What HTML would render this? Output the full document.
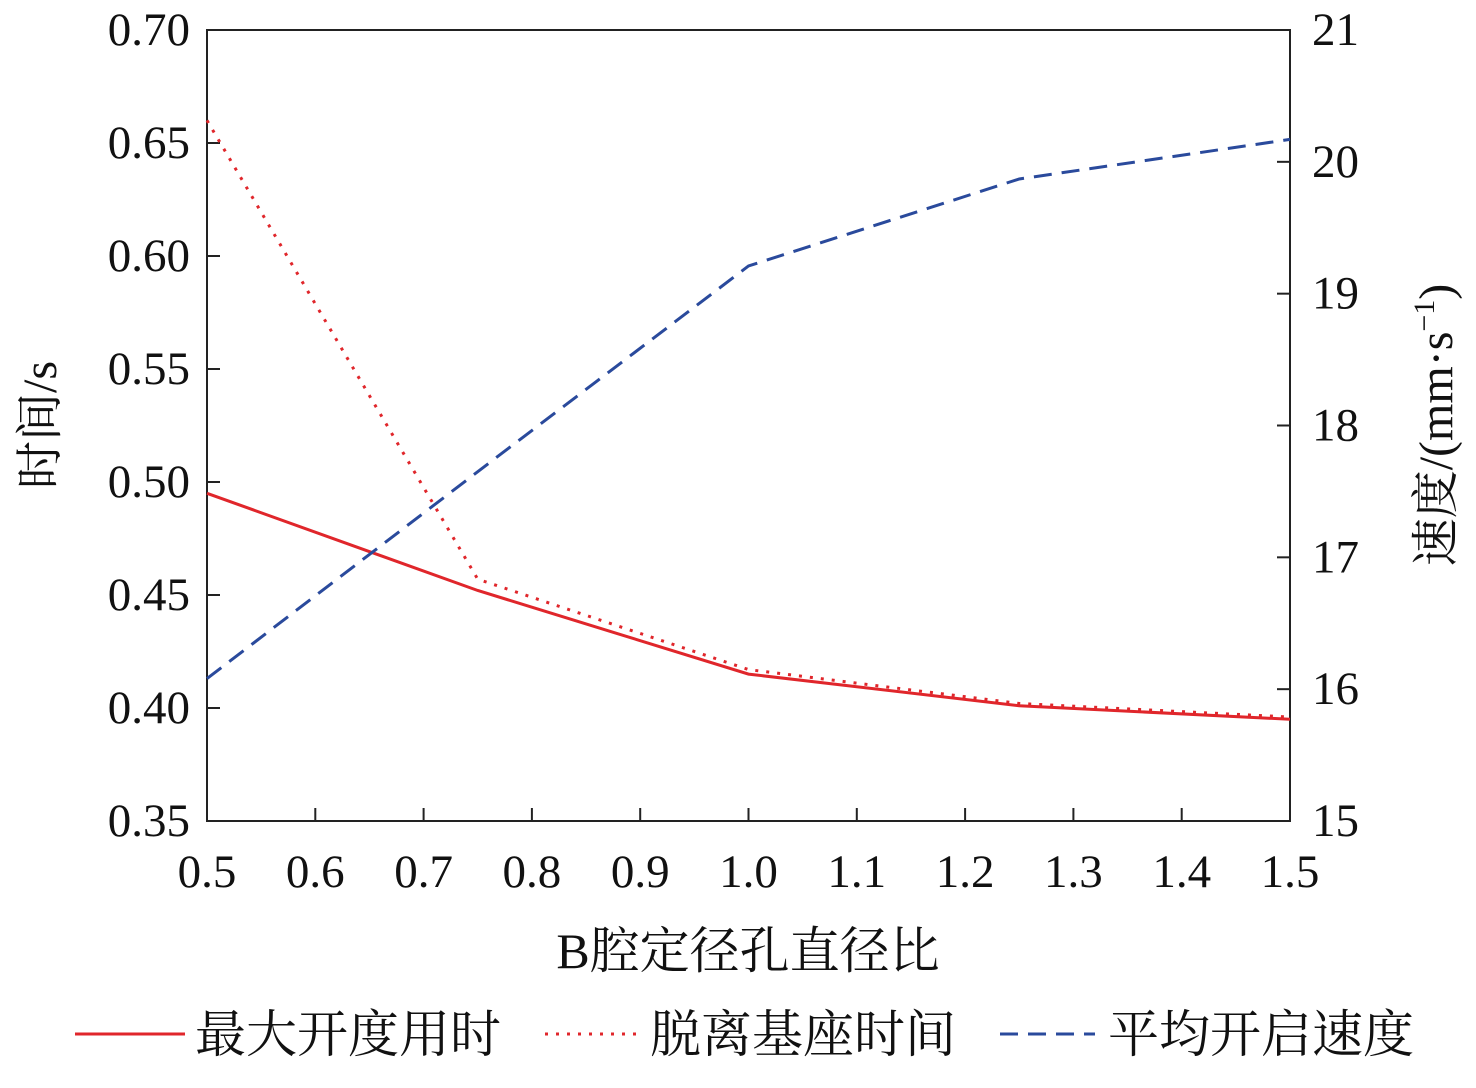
<!DOCTYPE html>
<html><head><meta charset="utf-8"><style>
body{margin:0;background:#fff}
svg text{font-family:"Liberation Serif","Noto Serif CJK SC",serif;fill:#111}
</style></head><body>
<svg id="chart" width="1476" height="1083" xmlns="http://www.w3.org/2000/svg"></svg>
<script>
const xCats=[0.5,0.75,1.0,1.25,1.5];
const maxOpenTime=[0.495,0.452,0.415,0.401,0.395];
const leaveSeatTime=[0.660,0.457,0.417,0.402,0.396];
const avgSpeed=[16.08,17.65,19.21,19.87,20.17];
const xTicks=[0.5,0.6,0.7,0.8,0.9,1.0,1.1,1.2,1.3,1.4,1.5];
const yTicks=[0.35,0.40,0.45,0.50,0.55,0.60,0.65,0.70];
const y2Ticks=[15,16,17,18,19,20,21];
const L=207,R=1290,T=30,B=821;
const sx=v=>L+(v-0.5)/1.0*(R-L);
const sy=v=>B-(v-0.35)/0.35*(B-T);
const sy2=v=>B-(v-15)/6*(B-T);
const svg=document.getElementById('chart');
const NS='http://www.w3.org/2000/svg';
function mk(tag,attrs,txt){const e=document.createElementNS(NS,tag);for(const k in attrs)e.setAttribute(k,attrs[k]);if(txt!==undefined)e.textContent=txt;svg.appendChild(e);return e;}
let e=mk('rect',{x:L,y:T,width:R-L,height:B-T,fill:'none',stroke:'#222','stroke-width':2});


xTicks.forEach(v=>{
  let t=mk('line',{x1:sx(v),x2:sx(v),y1:B,y2:B-13,stroke:'#222','stroke-width':2});
  
  
  let l=mk('text',{x:sx(v),y:B+66,'text-anchor':'middle','font-size':47},v.toFixed(1));
  
  
});
yTicks.forEach(v=>{
  let t=mk('line',{x1:L,x2:L+13,y1:sy(v),y2:sy(v),stroke:'#222','stroke-width':2});
  
  
  let l=mk('text',{x:L-17,y:sy(v)+15,'text-anchor':'end','font-size':47},v.toFixed(2));
  
  
});
y2Ticks.forEach(v=>{
  let t=mk('line',{x1:R,x2:R-13,y1:sy2(v),y2:sy2(v),stroke:'#222','stroke-width':2});
  
  
  let l=mk('text',{x:R+22,y:sy2(v)+15,'text-anchor':'start','font-size':47},String(v));
  
  
});
function path(vals,f){return vals.map((v,i)=>(i?'L':'M')+sx(xCats[i])+','+f(v)).join(' ');}
e=mk('path',{d:path(maxOpenTime,sy),fill:'none',stroke:'#e0262b','stroke-width':3});


e=mk('path',{d:path(leaveSeatTime,sy),fill:'none',stroke:'#e0262b','stroke-width':3,'stroke-dasharray':'3,8'});


e=mk('path',{d:path(avgSpeed,sy2),fill:'none',stroke:'#2a4a9c','stroke-width':3,'stroke-dasharray':'18,10'});


e=mk('text',{x:748,y:968,'text-anchor':'middle','font-size':50},'B腔定径孔直径比');


e=mk('text',{x:0,y:0,'text-anchor':'middle','font-size':48,transform:'translate(56,425) rotate(-90)'},'时间/s');


e=mk('text',{x:0,y:0,'text-anchor':'middle','font-size':48,transform:'translate(1452,425) rotate(-90)'});


e.innerHTML='速度/(mm·s<tspan dy="-18" font-size="30">−1</tspan><tspan dy="18">)</tspan>';
const leg=[['最大开度用时',75,110,195,'','#e0262b'],['脱离基座时间',545,95,650,'3,8','#e0262b'],['平均开启速度',1000,95,1108,'18,10','#2a4a9c']];
leg.forEach(([n,x,w,tx,d,c])=>{
  let ln=mk('line',{x1:x,x2:x+w,y1:1034,y2:1034,stroke:c,'stroke-width':3,'stroke-dasharray':d||'none'});
  
  
  let t=mk('text',{x:tx,y:1052,'font-size':51},n);
  
  
});
</script>
</body></html>
